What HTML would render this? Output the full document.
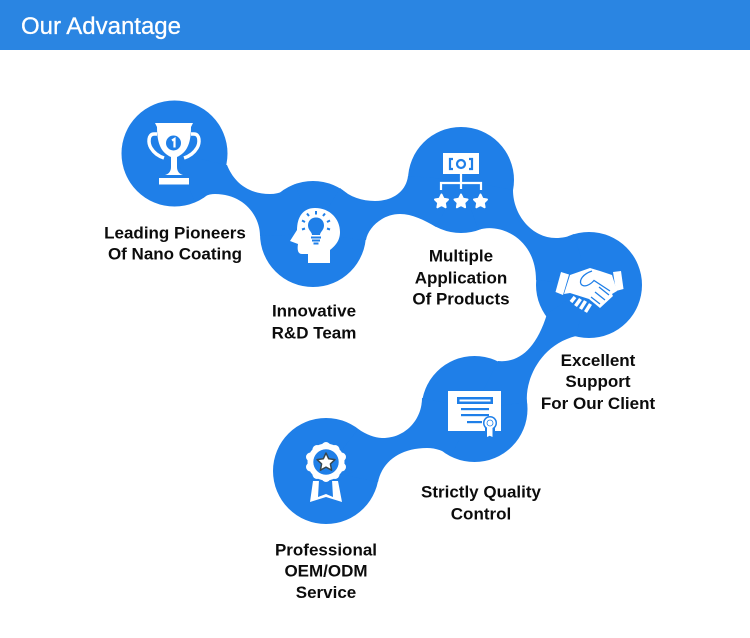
<!DOCTYPE html>
<html><head><meta charset="utf-8"><style>
html,body{margin:0;padding:0;background:#fff}
#p{position:relative;width:750px;height:638px;overflow:hidden;background:#fff}
svg{position:absolute;left:0;top:0}
text{font-family:"Liberation Sans",sans-serif;font-weight:bold;fill:#0c0c0c;font-size:17px;text-anchor:middle}
</style></head><body><div id="p">
<svg width="750" height="638" viewBox="0 0 750 638">
<rect width="750" height="50" fill="#2a85e2"/>
<text x="21" y="34" style="fill:#fff;stroke:#fff;stroke-width:.3;font-size:24px;font-weight:normal;text-anchor:start" textLength="160" lengthAdjust="spacing">Our Advantage</text>
<g fill="#1f7fe8">
<circle cx="174.5" cy="153.5" r="53"/><circle cx="313" cy="234" r="53"/><circle cx="461" cy="180" r="53"/><circle cx="589" cy="285" r="53"/><circle cx="474.5" cy="409" r="53"/><circle cx="326" cy="471" r="53"/>
<path d="M227 165C233 180 246 194 270 194C280 194 288 190 295 184L313 234L260 236C260 215 243 194 215 194C208 194 202 197 195 202L174 153Z"/>
<path d="M340 188C350 197 362 201 375 201C392 201 406 192 408 176L461 180L436 227C424 220 412 214 400 214C382 214 368 228 366 240L313 234Z"/>
<path d="M513 190C513 215 532 238 556 238C562 238 568 237 574 234L589 285L536 280C536 258 526 243 513 235C503 229 490 226 478 230L461 180Z"/>
<path d="M498 361C518 363 536 350 547 314L589 285L576 336C540 345 525 380 527 402L474 409Z"/>
<path d="M422 398C422 420 405 438 383 438C375 438 367 435 358 429L326 471L378 482C382 462 400 448 427 448C436 448 444 451 451 456L474 409Z"/>
</g>
<!-- trophy -->
<g fill="#fff">
<path d="M155 123H193L191 127C191 145 186 153 177 157L177 167C177 171 179 174 183 175H165C169 174 171 171 171 167L171 157C162 153 157 145 157 127Z"/>
<rect x="159" y="178" width="30" height="6.500"/>
</g>
<path d="M157 134H154C148 134 148 143 151 148C154 153 158 156 164 158M191 134H194C200 134 200 143 197 148C194 153 190 156 184 158" fill="none" stroke="#fff" stroke-width="3.500"/>
<circle cx="173.500" cy="143" r="7.500" fill="#1f7fe8"/>
<path d="M172 140.500L174.500 139V147.500" fill="none" stroke="#fff" stroke-width="2.200"/>
<!-- head -->
<path d="M315 208C330 208 340 219 340 232C340 241 335 246 330 250V263H308V254H302C298 254 297 250 298 244L290 241L297 230C297 217 303 208 315 208Z" fill="#fff"/>
<path d="M316 217.500C321 217.500 324 221 324 225.500C324 230 320 232 320 235H312C312 232 308 230 308 225.500C308 221 311 217.500 316 217.500Z" fill="#1f7fe8"/>
<g stroke="#1f7fe8" stroke-width="2" fill="none">
<path d="M311 237.500H321M312 240.500H320M313.500 243.500H318.500"/>
<path d="M316 211V214.500M307 213.500L309 216M325 213.500L323 216M302 220.500L305 222M330 220.500L327 222M302 229.500L305 228.500M330 229.500L327 228.500"/>
</g>
<!-- org -->
<rect x="443" y="153" width="36" height="21" fill="#fff"/>
<g fill="none" stroke="#1f7fe8" stroke-width="2.200">
<path d="M453 159H450V169H453M469 159H472V169H469"/><circle cx="461" cy="164" r="4"/>
</g>
<path d="M461 174V189M441 190V183H481V190" fill="none" stroke="#fff" stroke-width="2.200"/>
<g fill="#fff" stroke="#fff" stroke-width="2" stroke-linejoin="round">
<path d="M441.500 194.500L443.500 198.800L448 199.500L444.800 202.700L445.600 207.300L441.500 205L437.400 207.300L438.200 202.700L435 199.500L439.500 198.800Z"/>
<path d="M461 194.500L463 198.800L467.500 199.500L464.300 202.700L465.100 207.300L461 205L456.900 207.300L457.700 202.700L454.500 199.500L459 198.800Z"/>
<path d="M480.500 194.500L482.500 198.800L487 199.500L483.800 202.700L484.600 207.300L480.500 205L476.400 207.300L477.200 202.700L474 199.500L478.500 198.800Z"/>
</g>
<!-- handshake -->
<g fill="#fff">
<path d="M561 272L569 274.500L563 295L555.500 292Z"/>
<path d="M613 272L621 271L623.500 289L616 291Z"/>
<path d="M570 275L590 268L600 271L612 275L617 291L612 294L613 296L600 308L589 299L570 293L564 294Z"/>
</g>
<path d="M592 271C583 274 579 280 581 284C584 288 590 285 594 280.500L610 291M599 287L609 295M595 292L605 300M591 297L600 304" fill="none" stroke="#1f7fe8" stroke-width="1.300"/>
<path d="M575 297L571 302M580.500 299L575.500 306M585.500 301L580.500 309M590.500 304L585.500 312" fill="none" stroke="#fff" stroke-width="3.500"/>
<!-- certificate -->
<rect x="448" y="391" width="53" height="40" fill="#fff"/>
<rect x="457" y="397" width="36" height="7" fill="#1f7fe8"/>
<rect x="459.500" y="399.500" width="31" height="2" fill="#fff"/>
<g fill="#1f7fe8">
<rect x="461" y="408" width="28" height="2.200"/><rect x="461" y="414" width="28" height="2.200"/><rect x="467" y="421" width="15" height="2.200"/>
<circle cx="490" cy="423" r="7"/><path d="M485 426V439L490 437L495 439V426Z"/>
</g>
<path d="M487 426V437L489.700 435.800L492.500 437V426Z" fill="#fff"/>
<circle cx="490" cy="423" r="5.500" fill="#fff"/>
<circle cx="490" cy="423" r="3" fill="none" stroke="#1f7fe8" stroke-width=".8"/>
<!-- medal -->
<path d="M313 481L310 502L326 497L342 502L338 481Z" fill="#fff"/>
<path d="M319 480L318 497L326 494L333 497L332 480Z" fill="#1f7fe8"/>
<g fill="#fff">
<circle cx="326" cy="462" r="18.500"/>
<circle cx="326" cy="446.500" r="4.500"/><circle cx="335" cy="449.500" r="4.500"/><circle cx="341.500" cy="457" r="4.500"/><circle cx="341.500" cy="467" r="4.500"/><circle cx="335" cy="474.500" r="4.500"/><circle cx="326" cy="477.500" r="4.500"/><circle cx="317" cy="474.500" r="4.500"/><circle cx="310.500" cy="467" r="4.500"/><circle cx="310.500" cy="457" r="4.500"/><circle cx="317" cy="449.500" r="4.500"/>
</g>
<circle cx="326" cy="462" r="12.700" fill="#1f7fe8"/>
<path d="M326 453L328.700 458.800L335 459.600L330.400 463.900L331.600 470.200L326 467.100L320.400 470.200L321.600 463.900L317 459.600L323.300 458.800Z" fill="#fff" stroke="#37474f" stroke-width="1.500" stroke-linejoin="round"/>
<g>
<text x="175" y="238.500">Leading Pioneers</text><text x="175" y="259.500">Of Nano Coating</text>
<text x="314" y="316.500">Innovative</text><text x="314" y="338.500">R&amp;D Team</text>
<text x="461" y="261.500">Multiple</text><text x="461" y="283.500">Application</text><text x="461" y="304.500">Of Products</text>
<text x="598" y="366">Excellent</text><text x="598" y="387">Support</text><text x="598" y="409">For Our Client</text>
<text x="481" y="497.500">Strictly Quality</text><text x="481" y="519.500">Control</text>
<text x="326" y="555.500">Professional</text><text x="326" y="576.500">OEM/ODM</text><text x="326" y="598">Service</text>
</g>
</svg>
</div></body></html>
